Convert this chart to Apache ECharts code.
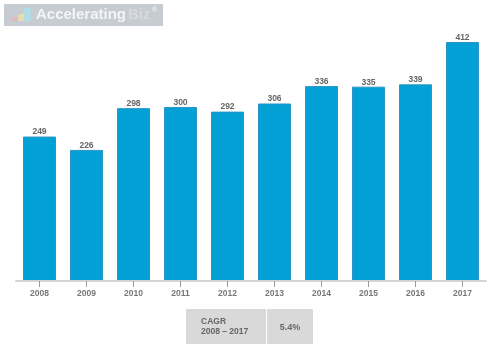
<!DOCTYPE html>
<html>
<head>
<meta charset="utf-8">
<style>
html, body { margin: 0; padding: 0; background: #fff; }
#chart { width: 500px; height: 357px; }
</style>
<script src="https://cdn.jsdelivr.net/npm/echarts@6/dist/echarts.min.js"></script>
</head>
<body>
<div id="chart"></div>
<script>
var years = ['2008', '2009', '2010', '2011', '2012', '2013', '2014', '2015', '2016', '2017'];
var values = [249, 226, 298, 300, 292, 306, 336, 335, 339, 412];
var cagrLabel = ['CAGR', '2008 – 2017'];
var cagrValue = '5.4%';

var font = '"Liberation Sans", Arial, sans-serif';
var myChart = echarts.init(document.getElementById('chart'));

myChart.setOption({
	animation: false,
	grid: { left: 16, right: 14, top: 42, bottom: 76 },
	xAxis: {
		type: 'category',
		data: years,
		z: 5,
		axisLine: { show: true, onZero: false, lineStyle: { color: '#d4d4d4', width: 2 } },
		axisTick: { show: true, alignWithLabel: true, interval: 0, length: 6, lineStyle: { color: '#999999', width: 1 } },
		axisLabel: { color: '#777777', fontFamily: font, fontSize: 8.5, fontWeight: 'bold', margin: 8 }
	},
	yAxis: { type: 'value', min: 0, max: 412, show: false },
	series: [{
		type: 'bar',
		data: values,
		barWidth: 33,
		itemStyle: { color: '#03a0d6', borderColor: '#2b95c6', borderWidth: 1 },
		label: {
			show: true,
			position: 'top',
			distance: 0,
			color: '#666666',
			fontFamily: font,
			fontSize: 8.5,
			fontWeight: 'bold'
		}
	}],
	graphic: [
		// logo
		{ type: 'rect', shape: { x: 4, y: 4, width: 159, height: 22 }, style: { fill: '#c6ccd2' } },
		{ type: 'rect', shape: { x: 11, y: 17, width: 7, height: 4 }, style: { fill: '#e3b9c0' } },
		{ type: 'polygon', shape: { points: [[18, 21], [18, 15], [24, 13], [24, 21]] }, style: { fill: '#e6dcb0' } },
		{ type: 'polygon', shape: { points: [[24, 21], [24, 8], [31, 8], [31, 21]] }, style: { fill: '#b3dbe6' } },
		{ type: 'text', style: { x: 36, y: 15, text: 'Accelerating', fill: '#f4f5f6', font: 'bold 15px ' + font, verticalAlign: 'middle' } },
		{ type: 'text', style: { x: 128, y: 15, text: 'Biz', fill: '#d8d9da', font: 'bold 15px ' + font, verticalAlign: 'middle' } },
		{ type: 'text', style: { x: 152, y: 10, text: '®', fill: '#f0f1f2', font: 'bold 7px ' + font, verticalAlign: 'middle' } },
		// CAGR table
		{ type: 'rect', shape: { x: 186, y: 309, width: 80, height: 35 }, style: { fill: '#d9d9d9' } },
		{ type: 'rect', shape: { x: 267, y: 309, width: 46, height: 35 }, style: { fill: '#d9d9d9' } },
		{ type: 'text', style: { x: 201, y: 322, text: cagrLabel[0], fill: '#666666', font: 'bold 8.5px ' + font, verticalAlign: 'middle' } },
		{ type: 'text', style: { x: 201, y: 332, text: cagrLabel[1], fill: '#666666', font: 'bold 8.5px ' + font, verticalAlign: 'middle' } },
		{ type: 'text', style: { x: 290, y: 328, text: cagrValue, fill: '#666666', font: 'bold 9px ' + font, align: 'center', verticalAlign: 'middle' } }
	]
});
</script>
</body>
</html>
